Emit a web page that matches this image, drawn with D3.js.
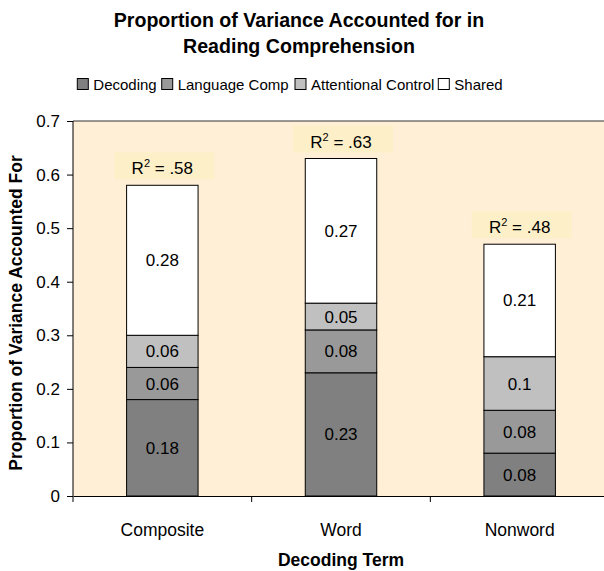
<!DOCTYPE html>
<html><head><meta charset="utf-8">
<script src="https://cdn.jsdelivr.net/npm/d3@7"></script>
<style>body{margin:0;background:#fff;} text{font-family:"Liberation Sans",Arial,sans-serif;}</style>
</head><body>
<svg id="c" width="604" height="571"></svg>
<script>
const categories = ["Composite", "Word", "Nonword"];
const seriesNames = ["Decoding", "Language Comp", "Attentional Control", "Shared"];
const decoding = [0.18, 0.23, 0.08];
const languageComp = [0.06, 0.08, 0.08];
const attentional = [0.06, 0.05, 0.10];
const shared = [0.28, 0.27, 0.21];
const r2Labels = [".58", ".63", ".48"];
const yTicks = [0, 0.1, 0.2, 0.3, 0.4, 0.5, 0.6, 0.7];
const colors = ["#808080", "#999999", "#c0c0c0", "#ffffff"];

(function () {
const svg = d3.select("#c");
const pLeft = 73, pTop = 121, pBottom = 496, pRight = 609;
const x = d3.scaleBand().domain(categories).range([pLeft, pRight]).paddingInner(0).paddingOuter(0);
const y = d3.scaleLinear().domain([0, 0.7]).range([pBottom, pTop]);
const barW = x.bandwidth() * 0.4;

// background
svg.append("rect").attr("x", pLeft).attr("y", pTop).attr("width", pRight - pLeft).attr("height", pBottom - pTop).attr("fill", "#feefd6");
svg.append("line").attr("x1", pLeft).attr("x2", 604).attr("y1", pTop).attr("y2", pTop).attr("stroke", "#333").attr("stroke-width", 1);

const rows = categories.map((c, i) => ({cat: c, "Decoding": decoding[i], "Language Comp": languageComp[i], "Attentional Control": attentional[i], "Shared": shared[i]}));
const stack = d3.stack().keys(seriesNames)(rows);

stack.forEach((layer, li) => {
  layer.forEach(d => {
    const cx = x(d.data.cat) + x.bandwidth() / 2;
    svg.append("rect").attr("x", cx - barW / 2).attr("y", y(d[1])).attr("width", barW).attr("height", y(d[0]) - y(d[1]))
      .attr("fill", colors[li]).attr("stroke", "#000").attr("stroke-width", 1);
    const v = d[1] - d[0];
    svg.append("text").attr("x", cx).attr("y", (y(d[0]) + y(d[1])) / 2 + 6).attr("text-anchor", "middle")
      .attr("font-size", 17).attr("fill", "#000").text(d3.format("~g")(+v.toFixed(2)));
  });
});

// R2 labels
categories.forEach((c, i) => {
  const total = decoding[i] + languageComp[i] + attentional[i] + shared[i];
  const cx = x(c) + x.bandwidth() / 2;
  const yt = y(total);
  svg.append("rect").attr("x", cx - 48).attr("y", yt - 33).attr("width", 100).attr("height", 27).attr("fill", "#fdf0c8");
  const t = svg.append("text").attr("x", cx).attr("y", yt - 11).attr("text-anchor", "middle").attr("font-size", 17).attr("fill", "#000");
  t.append("tspan").text("R");
  t.append("tspan").attr("font-size", 11).attr("dy", -7).text("2");
  t.append("tspan").attr("dy", 7).text(" = " + r2Labels[i]);
});

// axes
const yAxis = d3.axisLeft(y).tickValues(yTicks).tickSize(6).tickPadding(7).tickFormat(d => d === 0 ? "0" : d3.format(".1f")(d));
const gy = svg.append("g").attr("transform", `translate(${pLeft},0)`).call(yAxis);
gy.selectAll("text").attr("font-size", 17).attr("fill", "#000").attr("font-family", "Liberation Sans, Arial, sans-serif");
gy.selectAll("line,path").attr("stroke", "#000");
gy.select(".domain").attr("d", `M0,${pTop}V${pBottom + 6}`);

const xAxis = d3.axisBottom(x).tickSize(0).tickSizeOuter(0);
const gx = svg.append("g").attr("transform", `translate(0,${pBottom})`).call(xAxis);
gx.selectAll("text").attr("font-size", 17.5).attr("fill", "#000").attr("font-family", "Liberation Sans, Arial, sans-serif").attr("dy", 0).attr("y", 40);
gx.select(".domain").attr("stroke", "#000");
categories.slice(1).forEach(c => {
  gx.append("line").attr("x1", x(c)).attr("x2", x(c)).attr("y1", 0).attr("y2", 6).attr("stroke", "#000");
});

// titles
svg.append("text").attr("x", 299).attr("y", 26.5).attr("text-anchor", "middle").attr("font-size", 19.6).attr("font-weight", "bold").text("Proportion of Variance Accounted for in");
svg.append("text").attr("x", 299).attr("y", 53).attr("text-anchor", "middle").attr("font-size", 19.6).attr("font-weight", "bold").text("Reading Comprehension");
svg.append("text").attr("x", 341).attr("y", 566).attr("text-anchor", "middle").attr("font-size", 17.5).attr("font-weight", "bold").text("Decoding Term");
svg.append("text").attr("transform", "translate(22,313) rotate(-90)").attr("text-anchor", "middle").attr("font-size", 17.5).attr("font-weight", "bold").text("Proportion of Variance Accounted For");

// legend
const legX = [77.3, 161.7, 295, 438.3];
seriesNames.forEach((s, i) => {
  svg.append("rect").attr("x", legX[i]).attr("y", 78.5).attr("width", 11).attr("height", 11).attr("fill", colors[i]).attr("stroke", "#000");
  svg.append("text").attr("x", legX[i] + 16).attr("y", 89.5).attr("font-size", 15).text(s);
});
})();
</script>
</body></html>
